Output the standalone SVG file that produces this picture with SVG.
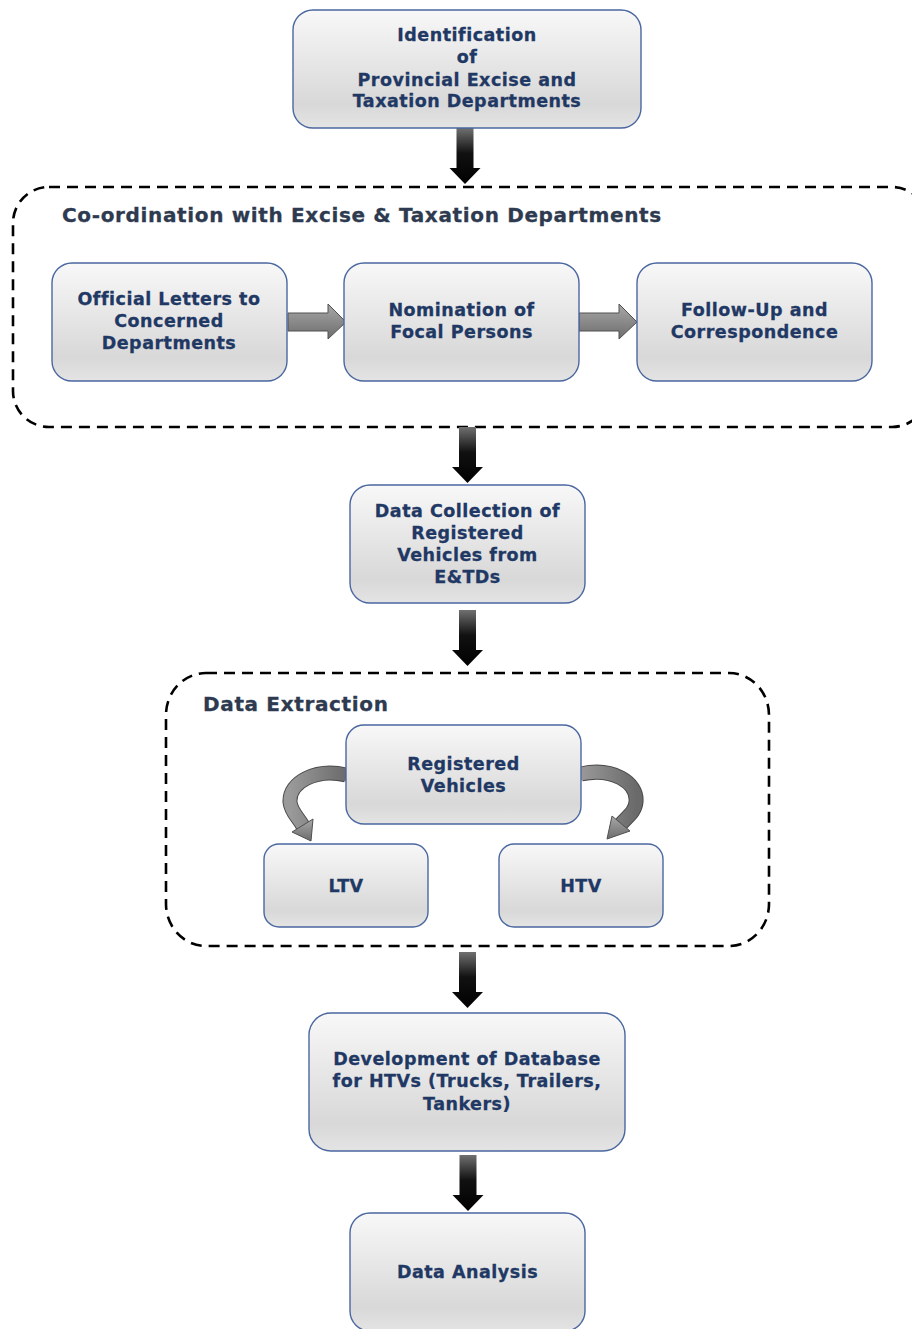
<svg xmlns="http://www.w3.org/2000/svg" width="912" height="1329" viewBox="0 0 912 1329">
  <defs>
    <linearGradient id="boxFill" x1="0" y1="0" x2="0" y2="1">
      <stop offset="0" stop-color="#f8f8f8"/>
      <stop offset="0.8" stop-color="#d8d8d8"/>
      <stop offset="1" stop-color="#e4e4e4"/>
    </linearGradient>
    <linearGradient id="blackFill" x1="0" y1="0" x2="0" y2="1">
      <stop offset="0" stop-color="#707070"/>
      <stop offset="0.45" stop-color="#111111"/>
      <stop offset="1" stop-color="#000000"/>
    </linearGradient>
    <linearGradient id="grayFill" x1="0" y1="0" x2="0" y2="1">
      <stop offset="0" stop-color="#a8a8a8"/>
      <stop offset="1" stop-color="#6c6c6c"/>
    </linearGradient>
    <linearGradient id="grayFillH" x1="0" y1="0" x2="1" y2="0">
      <stop offset="0" stop-color="#9a9a9a"/>
      <stop offset="1" stop-color="#6a6a6a"/>
    </linearGradient>
    <!-- downward block arrow, 56px long, centred on x=0 -->
    <path id="downArrow" d="M-8.5,0 H8.5 V40 H15.5 L0,56 L-15.5,40 H-8.5 Z"/>
    <!-- rightward block arrow, 58px long, centred on y=0 -->
    <path id="rightArrow" d="M0,-9 H40 V-18 L58,0 L40,17 V9 H0 Z"/>
  </defs>
  <style>
    .box { fill: url(#boxFill); stroke: #4a67a0; stroke-width: 1.4; }
    .frame { fill: none; stroke: #000; stroke-width: 2.6; stroke-dasharray: 11 7; }
    .lbl { font-family: "DejaVu Sans", Verdana, sans-serif; font-weight: bold; font-size: 17.5px; letter-spacing: 0.5px; fill: #1f3864; stroke: #1f3864; stroke-width: 0.3; text-anchor: middle; }
    .ttl { font-family: "DejaVu Sans", Verdana, sans-serif; font-weight: bold; font-size: 20px; letter-spacing: 0.65px; fill: #2e3a4f; stroke: #2e3a4f; stroke-width: 0.3; }
    .blk { fill: url(#blackFill); }
    .gry { fill: url(#grayFill); stroke: #505050; stroke-width: 1; }
  </style>

  <rect width="912" height="1329" fill="#ffffff"/>

  <!-- dashed group frames -->
  <g id="coordination-frame">
    <rect class="frame" x="13" y="187" width="915" height="240" rx="36" ry="36"/>
    <text class="ttl" x="62" y="222">Co-ordination with Excise &amp; Taxation Departments</text>
  </g>
  <g id="extraction-frame">
    <rect class="frame" x="166" y="673" width="603" height="273" rx="40" ry="42"/>
    <text class="ttl" x="203" y="711">Data Extraction</text>
  </g>

  <!-- connectors -->
  <g id="connectors">
    <use href="#downArrow" class="blk" transform="translate(465,128)"/>
    <use href="#downArrow" class="blk" transform="translate(467.5,427)"/>
    <use href="#downArrow" class="blk" transform="translate(467.5,610)"/>
    <use href="#downArrow" class="blk" transform="translate(467.5,952)"/>
    <use href="#downArrow" class="blk" transform="translate(468,1155)"/>

    <use href="#rightArrow" class="gry" transform="translate(288,322)"/>
    <use href="#rightArrow" class="gry" transform="translate(579,322)"/>

    <!-- curved arrow to LTV -->
    <path d="M346,775 C316,768 289,782 290,802 C291,812 298,817 303,826" fill="none" stroke="#4a4a4a" stroke-width="15"/>
    <path d="M347,775 C316,768 289,782 290,802 C291,812 298,817 303,826" fill="none" stroke="url(#grayFillH)" stroke-width="13"/>
    <path d="M292,832 L313,819 L311,841 Z" class="gry"/>
    <!-- curved arrow to HTV -->
    <path d="M581,774 C612,767 638,782 636,802 C635,812 628,816 621,824" fill="none" stroke="#4a4a4a" stroke-width="15"/>
    <path d="M580,774 C612,767 638,782 636,802 C635,812 628,816 621,824" fill="none" stroke="url(#grayFillH)" stroke-width="13"/>
    <path d="M630,831 L612,816 L607,839 Z" class="gry"/>
  </g>

  <!-- process nodes -->
  <g id="n-identification">
    <rect class="box" x="293" y="10" width="348" height="118" rx="20"/>
    <text class="lbl" x="467" y="41">Identification</text>
    <text class="lbl" x="467" y="63">of</text>
    <text class="lbl" x="467" y="86">Provincial Excise and</text>
    <text class="lbl" x="467" y="107">Taxation Departments</text>
  </g>
  <g id="n-letters">
    <rect class="box" x="52" y="263" width="235" height="118" rx="20"/>
    <text class="lbl" x="169" y="305">Official Letters to</text>
    <text class="lbl" x="169" y="327">Concerned</text>
    <text class="lbl" x="169" y="349">Departments</text>
  </g>
  <g id="n-nomination">
    <rect class="box" x="344" y="263" width="235" height="118" rx="20"/>
    <text class="lbl" x="461.5" y="316">Nomination of</text>
    <text class="lbl" x="461.5" y="338">Focal Persons</text>
  </g>
  <g id="n-followup">
    <rect class="box" x="637" y="263" width="235" height="118" rx="20"/>
    <text class="lbl" x="754.5" y="316">Follow-Up and</text>
    <text class="lbl" x="754.5" y="338">Correspondence</text>
  </g>
  <g id="n-collection">
    <rect class="box" x="350" y="485" width="235" height="118" rx="20"/>
    <text class="lbl" x="467.5" y="517">Data Collection of</text>
    <text class="lbl" x="467.5" y="539">Registered</text>
    <text class="lbl" x="467.5" y="561">Vehicles from</text>
    <text class="lbl" x="467.5" y="583">E&amp;TDs</text>
  </g>
  <g id="n-registered">
    <rect class="box" x="346" y="725" width="235" height="99" rx="18"/>
    <text class="lbl" x="463.5" y="770">Registered</text>
    <text class="lbl" x="463.5" y="792">Vehicles</text>
  </g>
  <g id="n-ltv">
    <rect class="box" x="264" y="844" width="164" height="83" rx="15"/>
    <text class="lbl" x="346" y="892">LTV</text>
  </g>
  <g id="n-htv">
    <rect class="box" x="499" y="844" width="164" height="83" rx="15"/>
    <text class="lbl" x="581" y="892">HTV</text>
  </g>
  <g id="n-database">
    <rect class="box" x="309" y="1013" width="316" height="138" rx="22"/>
    <text class="lbl" x="467" y="1065">Development of Database</text>
    <text class="lbl" x="467" y="1087">for HTVs (Trucks, Trailers,</text>
    <text class="lbl" x="467" y="1110">Tankers)</text>
  </g>
  <g id="n-analysis">
    <rect class="box" x="350" y="1213" width="235" height="118" rx="20"/>
    <text class="lbl" x="467.5" y="1278">Data Analysis</text>
  </g>
</svg>
